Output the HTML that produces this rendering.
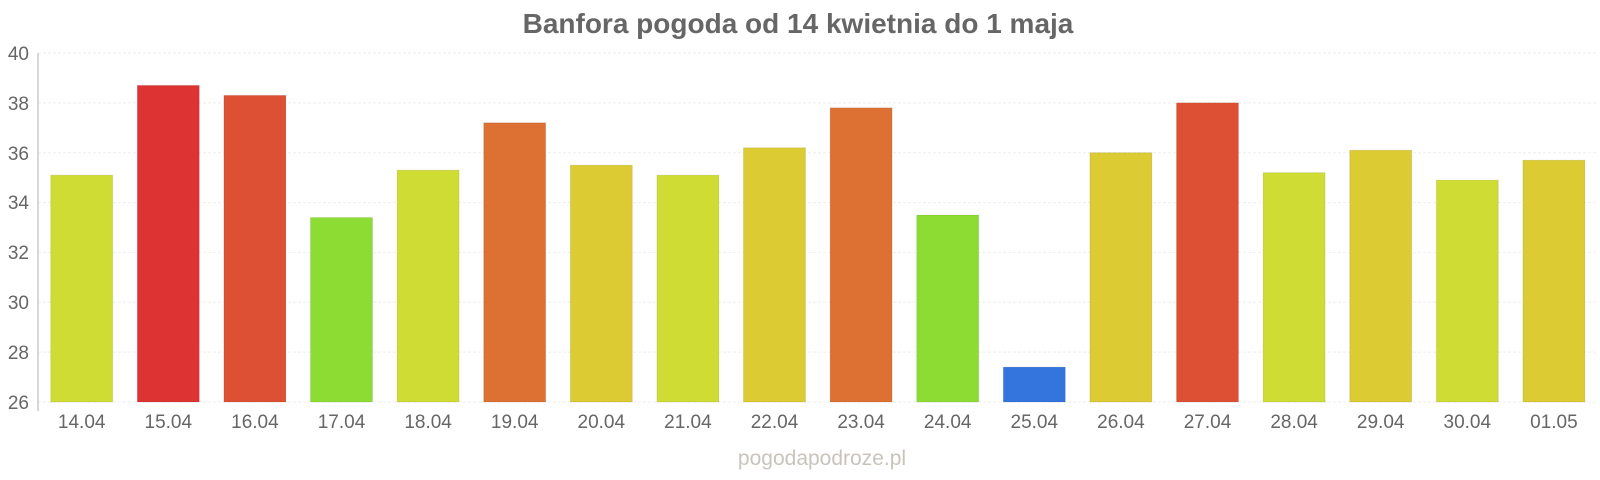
<!DOCTYPE html>
<html><head><meta charset="utf-8"><style>
html,body{margin:0;padding:0;background:#fff;}
svg{display:block;font-family:"Liberation Sans",Arial,sans-serif;}
</style></head><body>
<svg width="1600" height="480" viewBox="0 0 1600 480" xmlns="http://www.w3.org/2000/svg">
<text x="798" y="33" text-anchor="middle" font-size="28" font-weight="bold" fill="#666">Banfora pogoda od 14 kwietnia do 1 maja</text>
<g stroke="#eee" stroke-width="1" stroke-dasharray="3,2">
<line x1="38" x2="1597" y1="53" y2="53"/>
<line x1="38" x2="1597" y1="102.9" y2="102.9"/>
<line x1="38" x2="1597" y1="152.7" y2="152.7"/>
<line x1="38" x2="1597" y1="202.6" y2="202.6"/>
<line x1="38" x2="1597" y1="252.4" y2="252.4"/>
<line x1="38" x2="1597" y1="302.3" y2="302.3"/>
<line x1="38" x2="1597" y1="352.1" y2="352.1"/>
<line x1="38" x2="1597" y1="402" y2="402"/>
</g>
<line x1="38" x2="38" y1="53" y2="411" stroke="#ccc" stroke-width="1.5"/>
<g font-size="19" fill="#666" text-anchor="end">
<text x="29" y="60">40</text><text x="29" y="110">38</text><text x="29" y="160">36</text>
<text x="29" y="209">34</text><text x="29" y="259">32</text><text x="29" y="309">30</text>
<text x="29" y="359">28</text><text x="29" y="409">26</text>
</g>
<g id="bars"></g>
<g id="labels" font-size="19" fill="#666" text-anchor="middle"></g>
<text x="822" y="465" text-anchor="middle" font-size="21" fill="#c8c4bc">pogodapodroze.pl</text>
<script>
var v=[35.1,38.7,38.3,33.4,35.3,37.2,35.5,35.1,36.2,37.8,33.5,27.4,36.0,38.0,35.2,36.1,34.9,35.7];
var c=["#cfdc33","#dd3333","#dd5033","#8cdc33","#cfdc33","#dd7033","#dccb33","#cfdc33","#dccb33","#dd7033","#8cdc33","#3374dd","#dccb33","#dd5033","#cfdc33","#dccb33","#cfdc33","#dccb33"];
var l=["14.04","15.04","16.04","17.04","18.04","19.04","20.04","21.04","22.04","23.04","24.04","25.04","26.04","27.04","28.04","29.04","30.04","01.05"];
var ns="http://www.w3.org/2000/svg",b=document.getElementById("bars"),t=document.getElementById("labels");
for(var i=0;i<18;i++){var x=50.7+i*86.6,y=402-(v[i]-26)*24.93;
var r=document.createElementNS(ns,"rect");r.setAttribute("x",x);r.setAttribute("y",y);r.setAttribute("width",62);r.setAttribute("height",402-y);r.setAttribute("fill",c[i]);r.setAttribute("stroke","rgba(0,0,0,0.08)");b.appendChild(r);
var tx=document.createElementNS(ns,"text");tx.setAttribute("x",x+31);tx.setAttribute("y",428);tx.textContent=l[i];t.appendChild(tx);}
</script>
</svg>
</body></html>
